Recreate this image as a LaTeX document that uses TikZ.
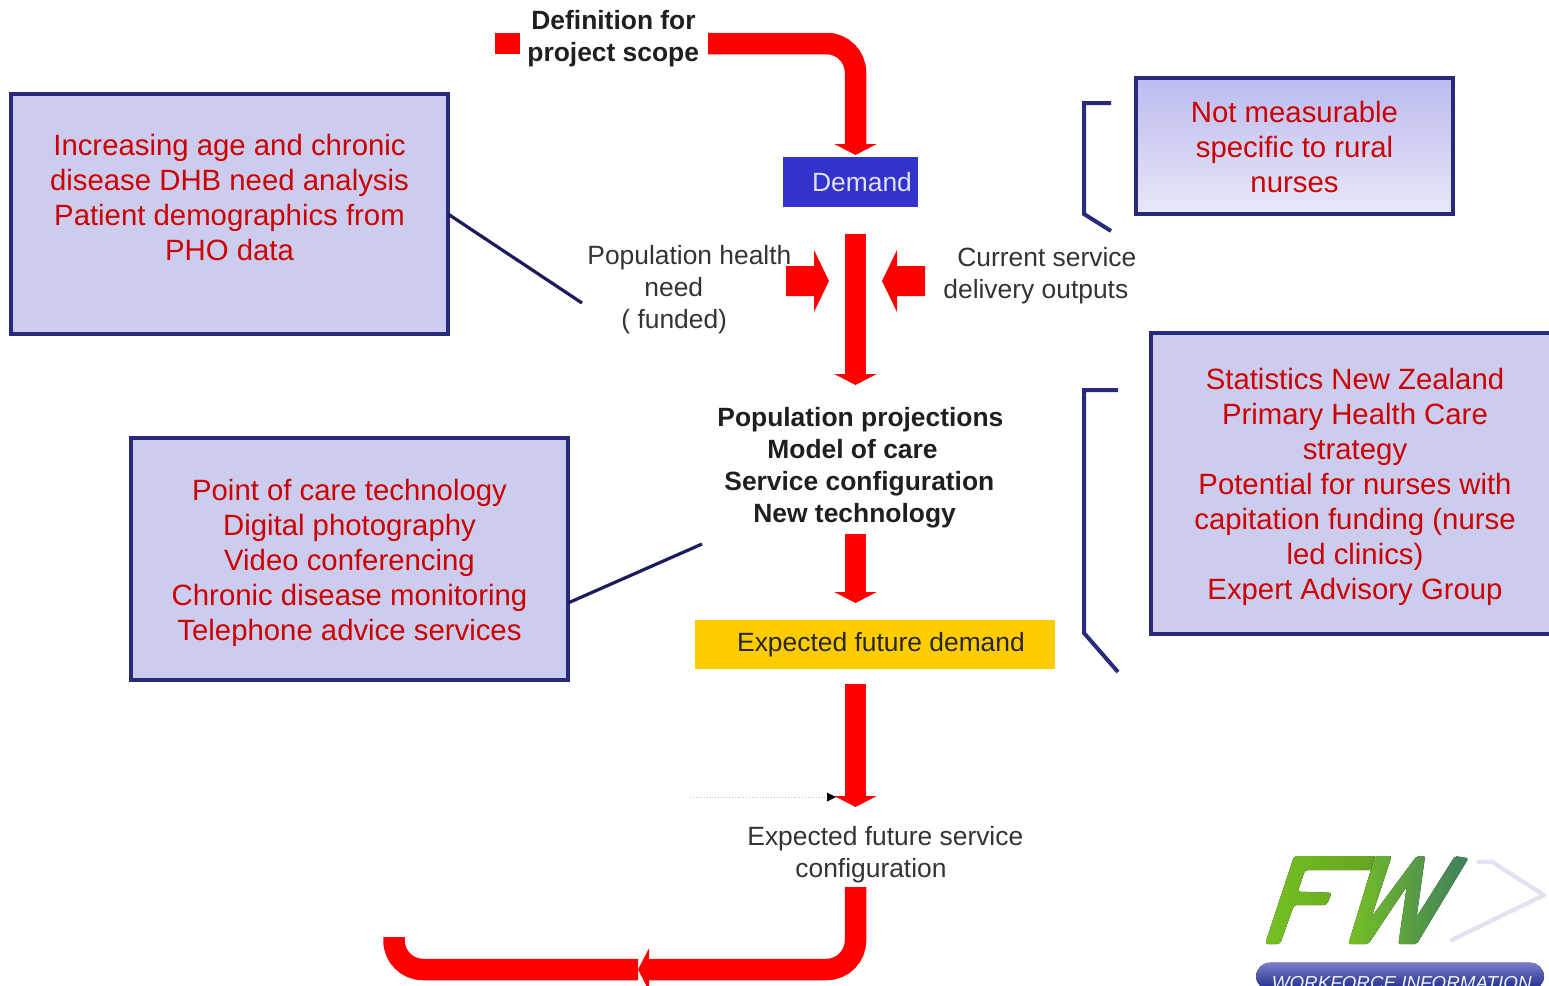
\documentclass[tikz,border=0pt]{standalone}
\usepackage{fontspec}
\setmainfont{Liberation Sans}
\usetikzlibrary{arrows.meta}
\definecolor{boxedge}{HTML}{2A2A7C}
\definecolor{boxfill}{HTML}{CCCCEE}
\definecolor{redtext}{HTML}{CC0000}
\definecolor{flowred}{HTML}{FF0000}
\definecolor{graytext}{HTML}{333333}
\definecolor{connector}{HTML}{1B1B5E}
\definecolor{demandblue}{HTML}{3333CC}
\definecolor{futureyellow}{HTML}{FFCC00}
\definecolor{logogreen}{HTML}{76C024}
\definecolor{logoteal}{HTML}{3E7F5E}
\definecolor{logochevron}{HTML}{E2E2F2}
\definecolor{pilltop}{HTML}{7A7EC8}
\definecolor{pillbottom}{HTML}{1C2A8C}
\definecolor{ruraltop}{HTML}{BBBBF0}
\definecolor{ruralbottom}{HTML}{E8E8F8}
\newcommand{\lift}[1]{\rule{0pt}{#1}}
\tikzset{
  infobox/.style={draw=boxedge,line width=2pt,fill=boxfill,outer sep=0pt,inner sep=0pt,align=center,text=redtext,font=\fontsize{14.67}{17.5}\selectfont},
  flow/.style={draw=flowred,line width=10.75pt,rounded corners=14.5pt},
  flowtip/.style={-{Triangle[length=5.5pt,width=21pt,fill=flowred]}},
  sidearrow/.style={fill=flowred,draw=none},
  graylabel/.style={text=graytext,font=\fontsize{13.2}{16}\selectfont,align=left,inner sep=0pt},
  boldlabel/.style={text=black!88,font=\bfseries\fontsize{13.2}{16}\selectfont,align=left,inner sep=0pt},
  stepbox/.style={inner sep=0pt,outer sep=0pt,font=\fontsize{13.2}{16}\selectfont},
  link/.style={draw=connector,line width=1.6pt},
  bracket/.style={draw=boxedge,line width=2pt}
}
\begin{document}
\begin{tikzpicture}[x=0.5pt,y=-0.5pt]
\useasboundingbox (0,0) rectangle (1549,986);
\clip (0,0) rectangle (1549,986);

% coordinates for free ends
\coordinate (scopestart) at (708,43.5);
\coordinate (scopecorner) at (855.5,43.5);
\coordinate (demandtip) at (855.5,155);
\coordinate (midtop) at (855.5,234);
\coordinate (midtip) at (855.5,385);
\coordinate (projtop) at (855.5,534);
\coordinate (projtip) at (855.5,603);
\coordinate (futtop) at (855.5,684);
\coordinate (futtip) at (855.5,807);
\coordinate (cfgtop) at (855.5,887);
\coordinate (cfgcorner) at (855.5,969.5);
\coordinate (cfgtip) at (638,969.5);
\coordinate (leftcorner) at (394,969.5);
\coordinate (leftend) at (394,937);
\coordinate (link1end) at (582,303);
\coordinate (link2start) at (568,603);
\coordinate (link2end) at (702,544);
\coordinate (dotstart) at (690,797);
\coordinate (dotend) at (836,797);
\coordinate (b1a) at (1111,103);
\coordinate (b1b) at (1084,103);
\coordinate (b1c) at (1084,214);
\coordinate (b1d) at (1111,231);
\coordinate (b2a) at (1118,390);
\coordinate (b2b) at (1084,390);
\coordinate (b2c) at (1084,633);
\coordinate (b2d) at (1118,672);

% information boxes
\node[infobox,minimum width=218.5pt,minimum height=120pt] (need) at (229.5,214)
  {\lift{11pt}Increasing age and chronic\\disease DHB need analysis\\Patient demographics from\\PHO data\\~};
\node[infobox,minimum width=218.5pt,minimum height=121pt] (tech) at (349.5,559)
  {\lift{15pt}Point of care technology\\Digital photography\\Video conferencing\\Chronic disease monitoring\\Telephone advice services};
\node[infobox,top color=ruraltop,bottom color=ruralbottom,minimum width=158.5pt,minimum height=68pt] (rural) at (1294.5,146)
  {\lift{11.5pt}Not measurable\\specific to rural\\nurses};
\node[infobox,minimum width=204pt,minimum height=150.5pt] (stats) at (1355,483.5)
  {\lift{14.5pt}Statistics New Zealand\\Primary Health Care\\strategy\\Potential for nurses with\\capitation funding (nurse\\led clinics)\\Expert Advisory Group};

% process boxes
\node[stepbox,fill=demandblue,text=white!85!demandblue,minimum width=67.5pt,minimum height=25pt] (demand) at (850.5,182)
  {\hspace*{11.5pt}Demand};
\node[stepbox,fill=futureyellow,text=black!85,minimum width=180pt,minimum height=24.5pt] (future) at (875,644.5)
  {\hspace*{6pt}Expected future demand};

% labels
\node[boldlabel,anchor=west] (scope) at (527,38.5)
  {\hspace*{2pt}Definition for\\project scope};
\node[graylabel,anchor=west] (health) at (587,289.5)
  {Population health\\\hspace*{28.5pt}need\\\hspace*{17pt}( funded)};
\node[graylabel,anchor=west] (current) at (943,275.5)
  {\hspace*{7pt}Current service\\delivery outputs};
\node[boldlabel,anchor=west] (proj) at (717,467.5)
  {Population projections\\\hspace*{25pt}Model of care\\\hspace*{3.5pt}Service configuration\\\hspace*{18pt}New technology};
\node[graylabel,anchor=west] (config) at (747,855)
  {Expected future service\\\hspace*{24pt}configuration};

% red flow arrows
\fill[flowred] (495,33) rectangle (520,54);
\draw[flow,flowtip] (scopestart) -- (scopecorner) -- (demandtip);
\draw[flow,flowtip] (midtop) -- (midtip);
\draw[flow,flowtip] (projtop) -- (projtip);
\draw[flow,flowtip] (futtop) -- (futtip);
\draw[flow,flowtip] (cfgtop) -- (cfgcorner) -- (cfgtip);
\draw[flow] (cfgtip) -- (leftcorner) -- (leftend);
\fill[sidearrow] (786,266) -- (814,266) -- (814,250) -- (829,281) -- (814,312) -- (814,296) -- (786,296) -- cycle;
\fill[sidearrow] (925,266) -- (897,266) -- (897,250) -- (882,281) -- (897,312) -- (897,296) -- (925,296) -- cycle;

% dotted connector
\draw[densely dotted,draw=black!25,line width=0.4pt] (dotstart) -- (828,797);
\fill[black] (827,792.5) -- (836,797) -- (827,801.5) -- cycle;

% navy links and brackets
\draw[link] (need.east) -- (link1end);
\draw[link] (link2start) -- (link2end);
\draw[bracket] (b1a) -- (b1b) -- (b1c) -- (b1d);
\draw[bracket] (b2a) -- (b2b) -- (b2c) -- (b2d);

% logo
\begin{scope}[x=0.16667pt,y=-0.16667pt,shift={(3660,2460)}]
  \draw[logochevron,line width=2.2pt,line join=round,line cap=round] (775,125) -- (815,125) -- (972,225) -- (695,360);
  \fill[left color=logogreen,right color=logogreen!85!black,rounded corners=1.5pt] (222,108) -- (470,108) -- (455,150) -- (255,150) -- (233,215) -- (335,218) -- (320,255) -- (222,255) -- (180,372) -- (135,372) -- cycle;
  \fill[left color=logogreen,right color=logoteal,rounded corners=1pt] (465,108) -- (515,108) -- (455,290) -- (590,108) -- (615,108) -- (590,290) -- (705,108) -- (745,115) -- (590,372) -- (535,372) -- (560,200) -- (445,372) -- (385,372) -- cycle;
  \fill[top color=pilltop,bottom color=pillbottom,rounded corners=7pt] (108,428) rectangle (972,510);
  \node[text=white!90!pilltop,font=\itshape\fontsize{9.4}{12}\selectfont,inner sep=0pt] (pilltext) at (545,490) {WORKFORCE INFORMATION};
\end{scope}
\end{tikzpicture}
\end{document}
